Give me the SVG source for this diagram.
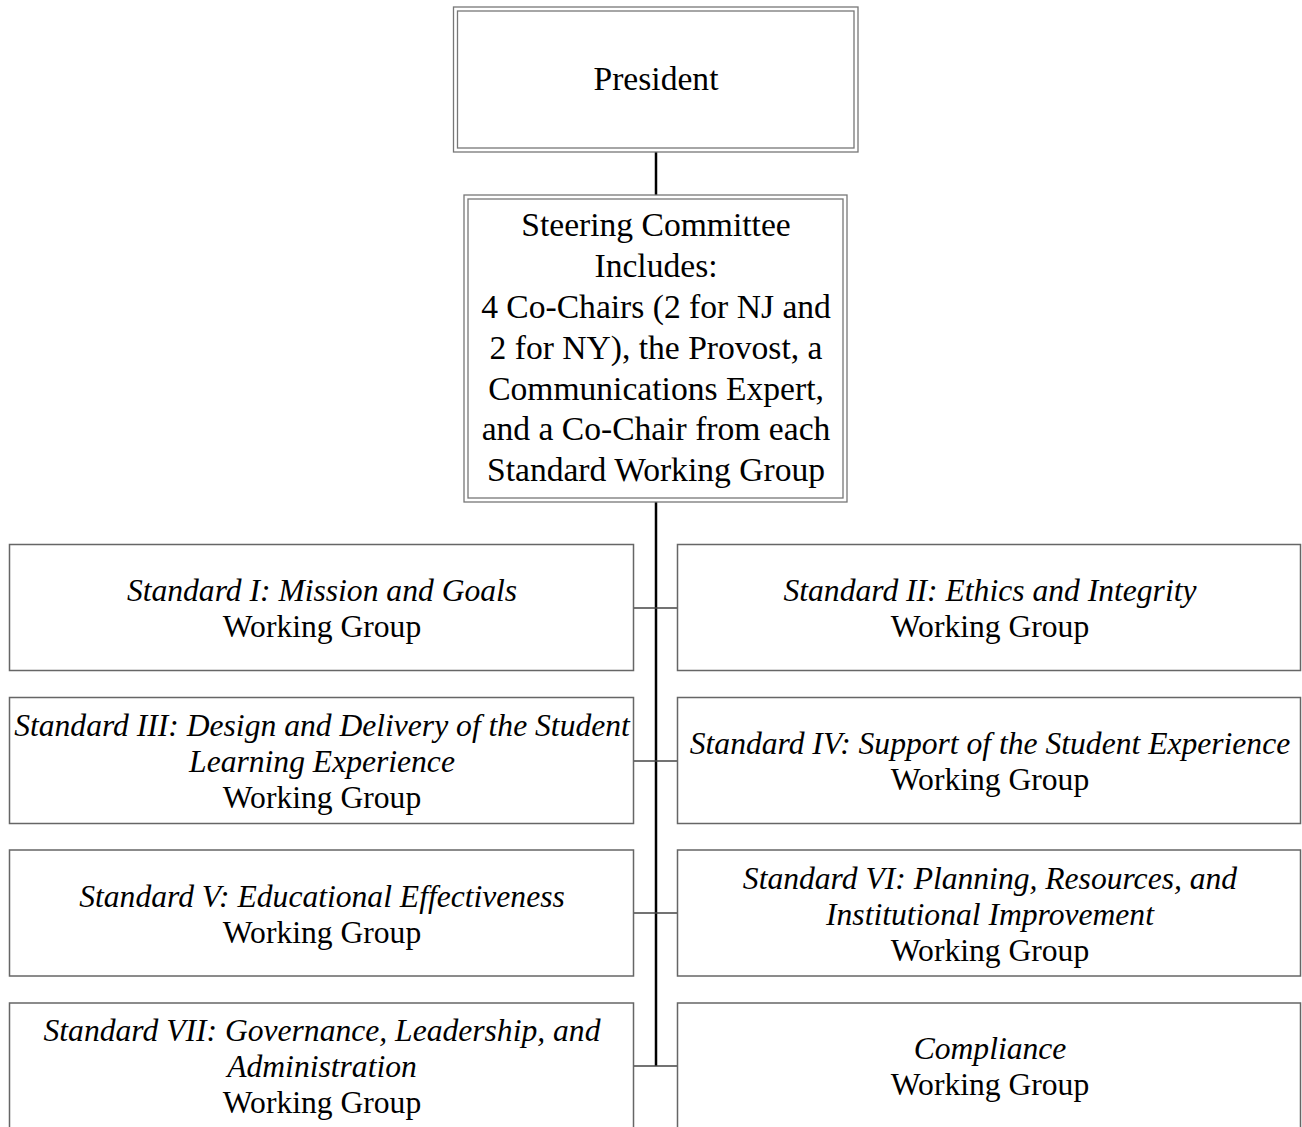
<svg xmlns="http://www.w3.org/2000/svg" width="1302" height="1127" viewBox="0 0 1302 1127">
<style>
.bg{fill:#fff}
.box{fill:#fff;stroke:#666;stroke-width:1.5}
.dbl{fill:none;stroke:#777;stroke-width:1.3}
.t{font-family:"Liberation Serif","Times New Roman",serif;font-size:31.6px;fill:#000;text-anchor:middle}
.big{font-size:33.6px}
.i{font-style:italic}
.trunk{stroke:#000;stroke-width:2.5;fill:none}
.br{stroke:#444;stroke-width:1.5;fill:none}
</style>
<rect class="bg" x="0" y="0" width="1302" height="1127"/>
<g id="connectors">
<line class="trunk" x1="656" y1="152" x2="656" y2="195"/>
<line class="trunk" x1="656" y1="502" x2="656" y2="1066"/>
<line class="br" x1="633.5" y1="608" x2="677.5" y2="608"/>
<line class="br" x1="633.5" y1="761" x2="677.5" y2="761"/>
<line class="br" x1="633.5" y1="913" x2="677.5" y2="913"/>
<line class="br" x1="633.5" y1="1066" x2="677.5" y2="1066"/>
</g>
<g id="president">
<rect class="dbl" x="453.5" y="7" width="404.5" height="145"/>
<rect class="dbl" x="457.5" y="11" width="396.5" height="137"/>
<text class="t big" x="656" y="90">President</text>
</g>
<g id="steering">
<rect class="dbl" x="464" y="195" width="383" height="307"/>
<rect class="dbl" x="468" y="199" width="375" height="299"/>
<text class="t big" x="656" y="236">Steering Committee</text>
<text class="t big" x="656" y="277">Includes:</text>
<text class="t big" x="656" y="318">4 Co-Chairs (2 for NJ and</text>
<text class="t big" x="656" y="358.5">2 for NY), the Provost, a</text>
<text class="t big" x="656" y="399.5">Communications Expert,</text>
<text class="t big" x="656" y="440">and a Co-Chair from each</text>
<text class="t big" x="656" y="481">Standard Working Group</text>
</g>
<g id="std1">
<rect class="box" x="9.5" y="544.5" width="624" height="126"/>
<text class="t i" x="322" y="601">Standard I: Mission and Goals</text>
<text class="t" x="322" y="637">Working Group</text>
</g>
<g id="std2">
<rect class="box" x="677.5" y="544.5" width="623" height="126"/>
<text class="t i" x="990" y="601">Standard II: Ethics and Integrity</text>
<text class="t" x="990" y="637">Working Group</text>
</g>
<g id="std3">
<rect class="box" x="9.5" y="697.5" width="624" height="126"/>
<text class="t i" x="322" y="736">Standard III: Design and Delivery of the Student</text>
<text class="t i" x="322" y="772">Learning Experience</text>
<text class="t" x="322" y="808">Working Group</text>
</g>
<g id="std4">
<rect class="box" x="677.5" y="697.5" width="623" height="126"/>
<text class="t i" x="990" y="754">Standard IV: Support of the Student Experience</text>
<text class="t" x="990" y="790">Working Group</text>
</g>
<g id="std5">
<rect class="box" x="9.5" y="850" width="624" height="126"/>
<text class="t i" x="322" y="907">Standard V: Educational Effectiveness</text>
<text class="t" x="322" y="943">Working Group</text>
</g>
<g id="std6">
<rect class="box" x="677.5" y="850" width="623" height="126"/>
<text class="t i" x="990" y="889">Standard VI: Planning, Resources, and</text>
<text class="t i" x="990" y="925">Institutional Improvement</text>
<text class="t" x="990" y="961">Working Group</text>
</g>
<g id="std7">
<rect class="box" x="9.5" y="1003" width="624" height="126"/>
<text class="t i" x="322" y="1041">Standard VII: Governance, Leadership, and</text>
<text class="t i" x="322" y="1077">Administration</text>
<text class="t" x="322" y="1113">Working Group</text>
</g>
<g id="compliance">
<rect class="box" x="677.5" y="1003" width="623" height="126"/>
<text class="t i" x="990" y="1059">Compliance</text>
<text class="t" x="990" y="1095">Working Group</text>
</g>
</svg>
